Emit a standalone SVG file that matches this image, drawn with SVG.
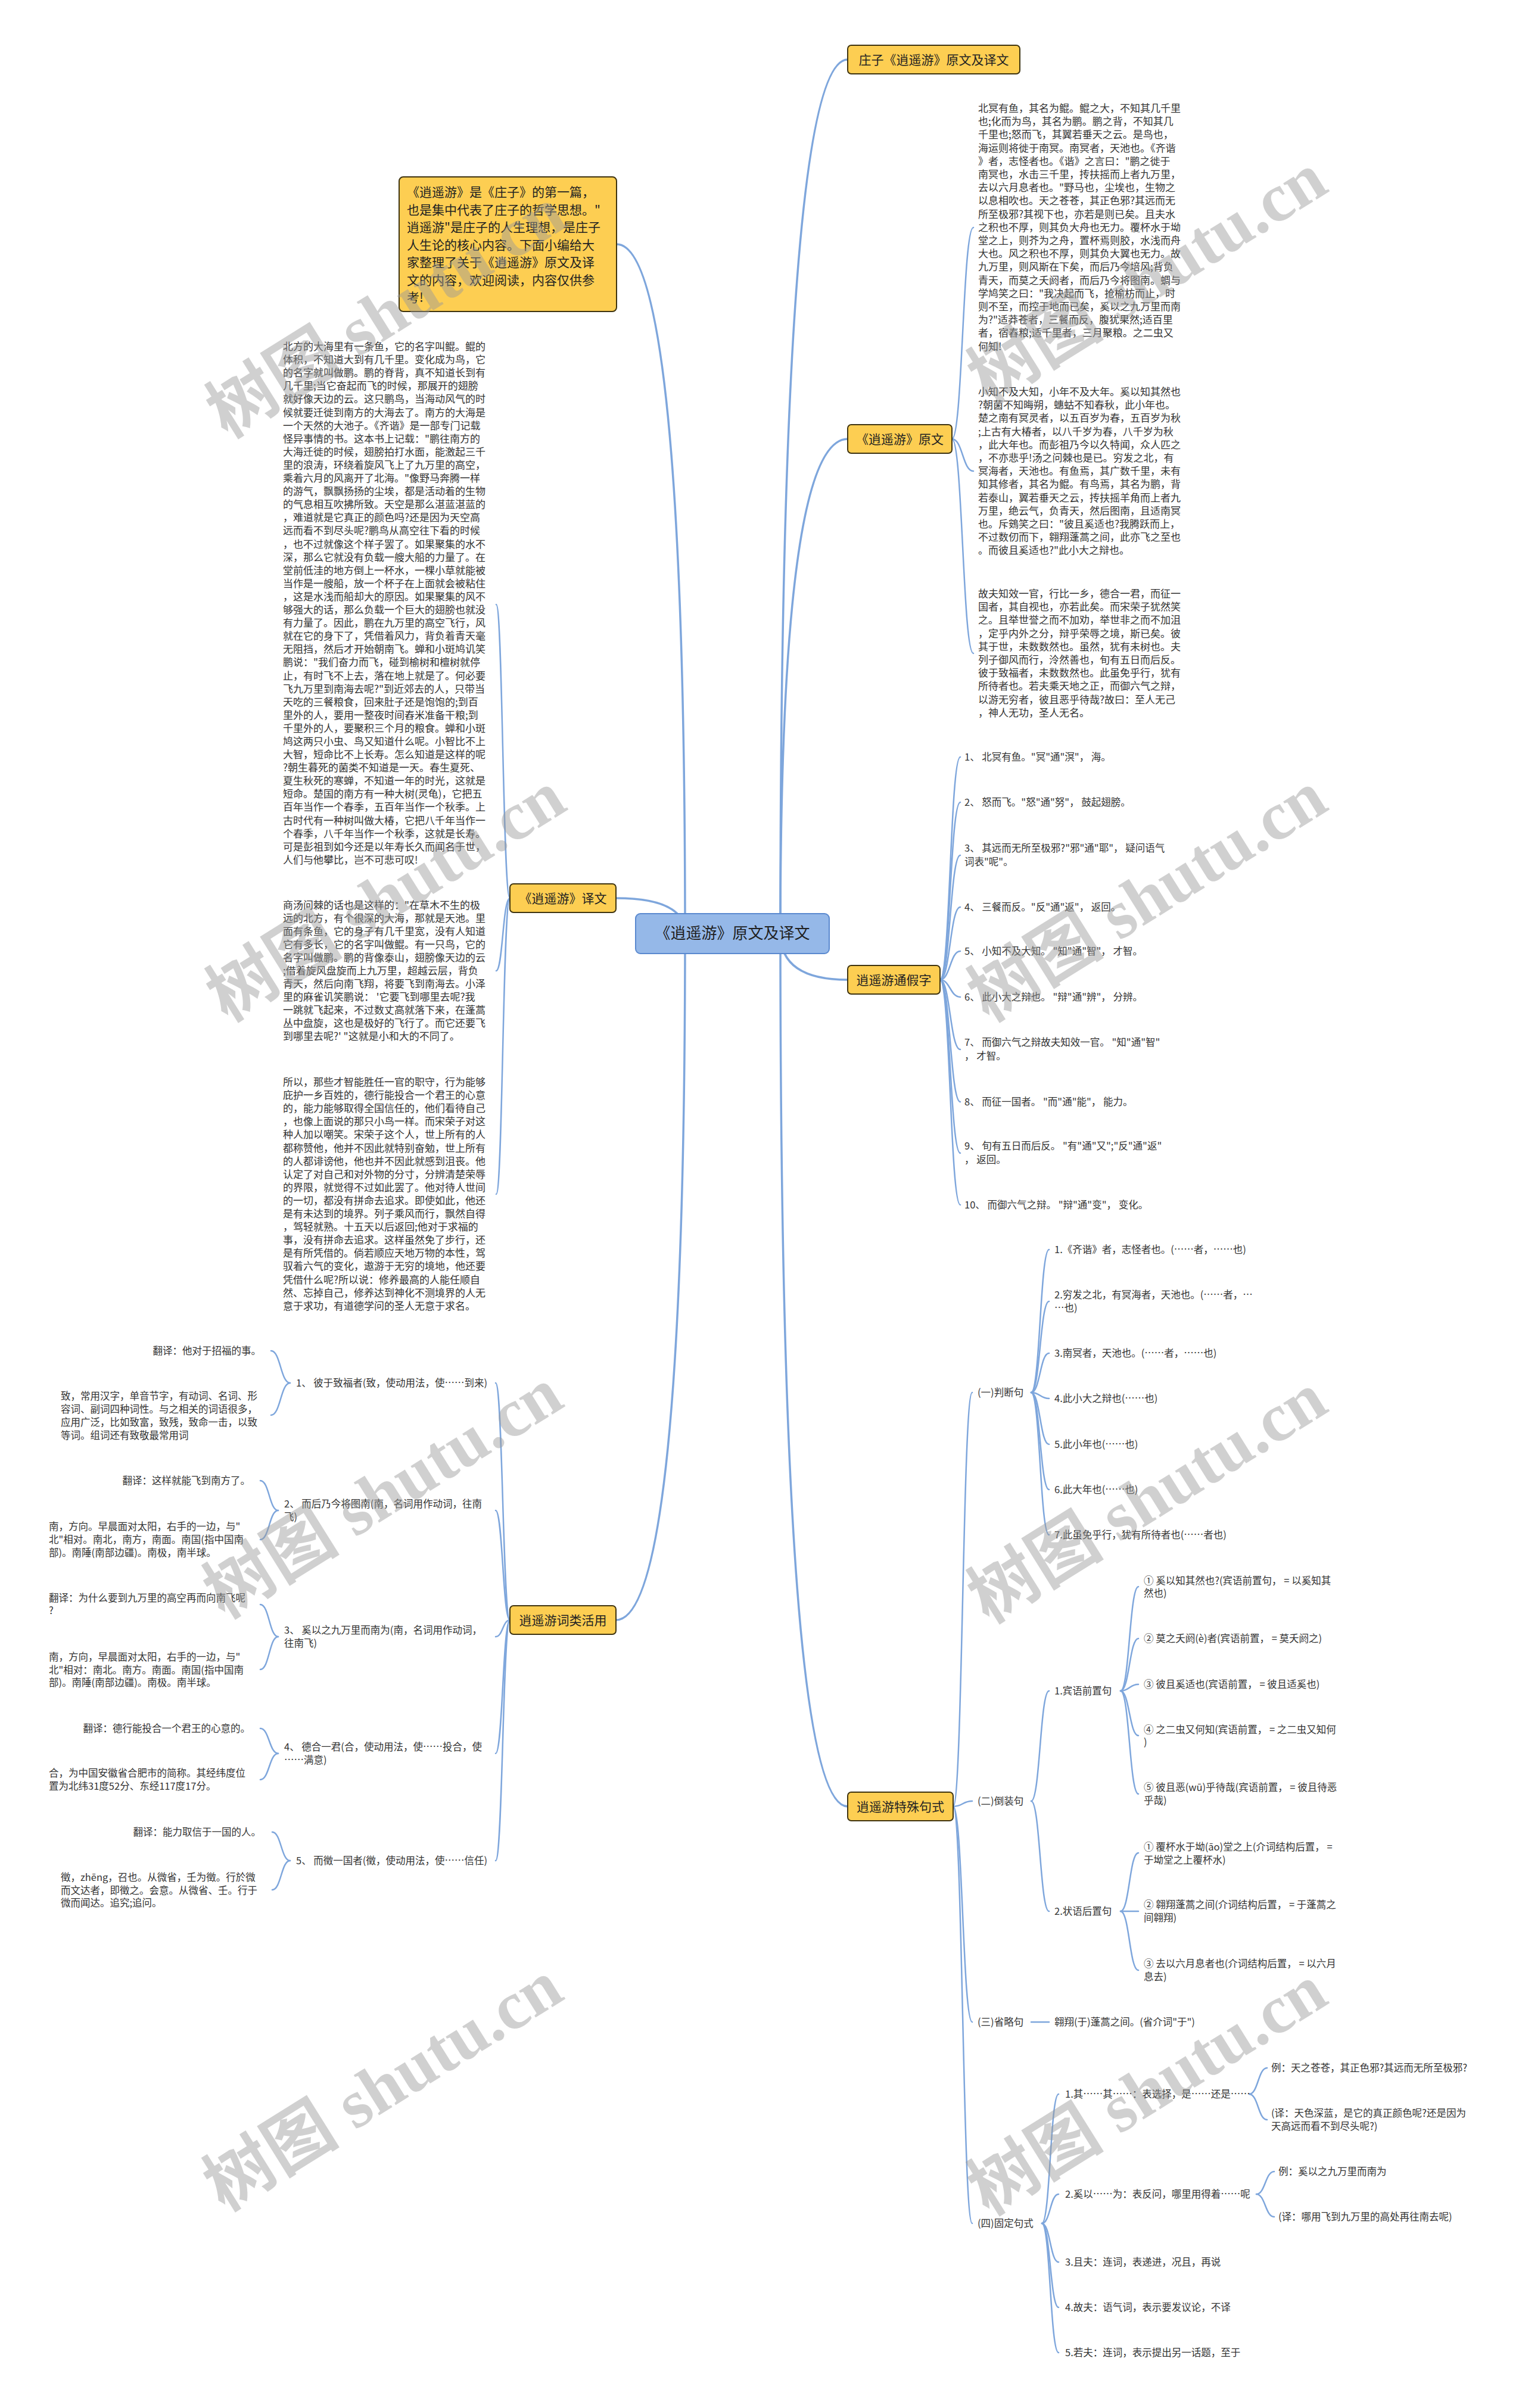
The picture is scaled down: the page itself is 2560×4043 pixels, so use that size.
<svg xmlns="http://www.w3.org/2000/svg" width="2560" height="4043" viewBox="0 0 2560 4043">
<style>
.t{font-family:"Noto Sans CJK SC","Liberation Sans",sans-serif;font-size:17px;fill:#333}
.s{font-family:"Noto Sans CJK SC","Liberation Sans",sans-serif;font-size:16.5px;fill:#333}
.n1{font-family:"Noto Sans CJK SC","Liberation Sans",sans-serif;font-size:21px;fill:#222}
.c{font-family:"Noto Sans CJK SC","Liberation Sans",sans-serif;font-size:26px;fill:#1f1f1f}
.y{fill:#FDCE52;stroke:#3f3410;stroke-width:2}
.e{text-anchor:end}
.m{text-anchor:middle}
.L{fill:none;stroke:#7ea6dc;stroke-width:2.5;stroke-linecap:round}
.M{fill:none;stroke:#7ea6dc;stroke-width:3.5;stroke-linecap:round}
.wm{font-family:"Liberation Serif","Noto Sans CJK SC",serif;font-size:115px;font-weight:bold;fill:#999;opacity:.45}
</style>
<rect width="2560" height="4043" fill="#fff"/>
<g id="connectors">
<path class="M" d="M1310 1567 Q1310 100 1423 100"/>
<path class="M" d="M1310 1567 Q1310 737 1423 737"/>
<path class="M" d="M1310 1567 Q1310 1645 1423 1645"/>
<path class="M" d="M1310 1567 Q1310 3033 1423 3033"/>
<path class="M" d="M1150 1567 Q1150 410 1035 410"/>
<path class="M" d="M1150 1567 Q1150 1508 1034 1508"/>
<path class="M" d="M1150 1567 Q1150 2720 1034 2720"/>
<path class="L" d="M1598 737 C1616 737 1616 382 1634 382"/>
<path class="L" d="M1598 737 C1616 737 1616 791 1634 791"/>
<path class="L" d="M1598 737 C1616 737 1616 1097 1634 1097"/>
<path class="L" d="M1578 1645 C1595 1645 1595 1271 1612 1271"/>
<path class="L" d="M1578 1645 C1595 1645 1595 1347 1612 1347"/>
<path class="L" d="M1578 1645 C1595 1645 1595 1436 1612 1436"/>
<path class="L" d="M1578 1645 C1595 1645 1595 1523 1612 1523"/>
<path class="L" d="M1578 1645 C1595 1645 1595 1597 1612 1597"/>
<path class="L" d="M1578 1645 C1595 1645 1595 1674 1612 1674"/>
<path class="L" d="M1578 1645 C1595 1645 1595 1762 1612 1762"/>
<path class="L" d="M1578 1645 C1595 1645 1595 1850 1612 1850"/>
<path class="L" d="M1578 1645 C1595 1645 1595 1936 1612 1936"/>
<path class="L" d="M1578 1645 C1595 1645 1595 2023 1612 2023"/>
<path class="L" d="M1600 3033 C1616 3033 1616 2338 1632 2338"/>
<path class="L" d="M1600 3033 C1616 3033 1616 3024 1632 3024"/>
<path class="L" d="M1600 3033 C1616 3033 1616 3395 1632 3395"/>
<path class="L" d="M1600 3033 C1616 3033 1616 3733 1632 3733"/>
<path class="L" d="M1731 2338 C1746 2338 1746 2098 1761 2098"/>
<path class="L" d="M1731 2338 C1746 2338 1746 2185 1761 2185"/>
<path class="L" d="M1731 2338 C1746 2338 1746 2272 1761 2272"/>
<path class="L" d="M1731 2338 C1746 2338 1746 2348 1761 2348"/>
<path class="L" d="M1731 2338 C1746 2338 1746 2425 1761 2425"/>
<path class="L" d="M1731 2338 C1746 2338 1746 2501 1761 2501"/>
<path class="L" d="M1731 2338 C1746 2338 1746 2577 1761 2577"/>
<path class="L" d="M1731 3024 C1746 3024 1746 2839 1761 2839"/>
<path class="L" d="M1731 3024 C1746 3024 1746 3209 1761 3209"/>
<path class="L" d="M1881 2839 C1896 2839 1896 2664 1911 2664"/>
<path class="L" d="M1881 2839 C1896 2839 1896 2751 1911 2751"/>
<path class="L" d="M1881 2839 C1896 2839 1896 2828 1911 2828"/>
<path class="L" d="M1881 2839 C1896 2839 1896 2914 1911 2914"/>
<path class="L" d="M1881 2839 C1896 2839 1896 3012 1911 3012"/>
<path class="L" d="M1881 3209 C1896 3209 1896 3111 1911 3111"/>
<path class="L" d="M1881 3209 C1896 3209 1896 3209 1911 3209"/>
<path class="L" d="M1881 3209 C1896 3209 1896 3308 1911 3308"/>
<path class="L" d="M1731 3395 L1761 3395"/>
<path class="L" d="M1749 3733 C1763 3733 1763 3516 1777 3516"/>
<path class="L" d="M1749 3733 C1763 3733 1763 3684 1777 3684"/>
<path class="L" d="M1749 3733 C1763 3733 1763 3798 1777 3798"/>
<path class="L" d="M1749 3733 C1763 3733 1763 3874 1777 3874"/>
<path class="L" d="M1749 3733 C1763 3733 1763 3950 1777 3950"/>
<path class="L" d="M2097 3516 C2112 3516 2112 3472 2127 3472"/>
<path class="L" d="M2097 3516 C2112 3516 2112 3559 2127 3559"/>
<path class="L" d="M2109 3684 C2124 3684 2124 3646 2139 3646"/>
<path class="L" d="M2109 3684 C2124 3684 2124 3722 2139 3722"/>
<path class="L" d="M856 1508 C844 1508 844 1015 833 1015"/>
<path class="L" d="M856 1508 C844 1508 844 1630 833 1630"/>
<path class="L" d="M856 1508 C844 1508 844 2005 833 2005"/>
<path class="L" d="M856 2720 C844 2720 844 2322 832 2322"/>
<path class="L" d="M856 2720 C844 2720 844 2536 832 2536"/>
<path class="L" d="M856 2720 C844 2720 844 2748 832 2748"/>
<path class="L" d="M856 2720 C844 2720 844 2944 832 2944"/>
<path class="L" d="M856 2720 C844 2720 844 3124 832 3124"/>
<path class="L" d="M487 2322 C471 2322 471 2268 455 2268"/>
<path class="L" d="M487 2322 C471 2322 471 2376 455 2376"/>
<path class="L" d="M467 2536 C452 2536 452 2486 437 2486"/>
<path class="L" d="M467 2536 C452 2536 452 2585 437 2585"/>
<path class="L" d="M467 2748 C452 2748 452 2694 437 2694"/>
<path class="L" d="M467 2748 C452 2748 452 2803 437 2803"/>
<path class="L" d="M467 2944 C452 2944 452 2902 437 2902"/>
<path class="L" d="M467 2944 C452 2944 452 2988 437 2988"/>
<path class="L" d="M487 3124 C472 3124 472 3076 457 3076"/>
<path class="L" d="M487 3124 C472 3124 472 3173 457 3173"/>
</g>
<g id="center">
<rect x="1067" y="1534" width="325" height="67" rx="8" fill="#95b8e8" stroke="#5a89cf" stroke-width="2"/>
<text class="c m" x="1229.5" y="1576">《逍遥游》原文及译文</text>
</g>
<g id="n-zhuangzi">
<rect class="y" x="1423" y="76" width="289" height="48" rx="6"/>
<text class="n1 m" x="1567.5" y="107.5">庄子《逍遥游》原文及译文</text>
</g>
<g id="n-yuanwen">
<rect class="y" x="1423" y="713" width="175" height="48" rx="6"/>
<text class="n1 m" x="1510.5" y="744.5">《逍遥游》原文</text>
</g>
<g id="n-tongjia">
<rect class="y" x="1423" y="1621" width="155" height="48" rx="6"/>
<text class="n1 m" x="1500.5" y="1652.5">逍遥游通假字</text>
</g>
<g id="n-teshu">
<rect class="y" x="1423" y="3009" width="177" height="48" rx="6"/>
<text class="n1 m" x="1511.5" y="3040.5">逍遥游特殊句式</text>
</g>
<g id="n-yiwen">
<rect class="y" x="856" y="1484" width="178" height="48" rx="6"/>
<text class="n1 m" x="945" y="1515.5">《逍遥游》译文</text>
</g>
<g id="n-cilei">
<rect class="y" x="856" y="2696" width="178" height="48" rx="6"/>
<text class="n1 m" x="945" y="2727.5">逍遥游词类活用</text>
</g>
<g id="n-intro">
<rect class="y" x="670" y="297" width="365" height="226" rx="7"/>
<text class="n1" x="683" y="330"><tspan x="683">《逍遥游》是《庄子》的第一篇，</tspan><tspan x="683" dy="29.5">也是集中代表了庄子的哲学思想。"</tspan><tspan x="683" dy="29.5">逍遥游"是庄子的人生理想，是庄子</tspan><tspan x="683" dy="29.5">人生论的核心内容。下面小编给大</tspan><tspan x="683" dy="29.5">家整理了关于《逍遥游》原文及译</tspan><tspan x="683" dy="29.5">文的内容，欢迎阅读，内容仅供参</tspan><tspan x="683" dy="29.5">考!</tspan></text>
</g>
<g id="yuanwen-1">
<text class="t" x="1642" y="188"><tspan x="1642">北冥有鱼，其名为鲲。鲲之大，不知其几千里</tspan><tspan x="1642" dy="22.2">也;化而为鸟，其名为鹏。鹏之背，不知其几</tspan><tspan x="1642" dy="22.2">千里也;怒而飞，其翼若垂天之云。是鸟也，</tspan><tspan x="1642" dy="22.2">海运则将徙于南冥。南冥者，天池也。《齐谐</tspan><tspan x="1642" dy="22.2">》者，志怪者也。《谐》之言曰："鹏之徙于</tspan><tspan x="1642" dy="22.2">南冥也，水击三千里，抟扶摇而上者九万里，</tspan><tspan x="1642" dy="22.2">去以六月息者也。"野马也，尘埃也，生物之</tspan><tspan x="1642" dy="22.2">以息相吹也。天之苍苍，其正色邪?其远而无</tspan><tspan x="1642" dy="22.2">所至极邪?其视下也，亦若是则已矣。且夫水</tspan><tspan x="1642" dy="22.2">之积也不厚，则其负大舟也无力。覆杯水于坳</tspan><tspan x="1642" dy="22.2">堂之上，则芥为之舟，置杯焉则胶，水浅而舟</tspan><tspan x="1642" dy="22.2">大也。风之积也不厚，则其负大翼也无力。故</tspan><tspan x="1642" dy="22.2">九万里，则风斯在下矣，而后乃今培风;背负</tspan><tspan x="1642" dy="22.2">青天，而莫之夭阏者，而后乃今将图南。蜩与</tspan><tspan x="1642" dy="22.2">学鸠笑之曰："我决起而飞，抢榆枋而止，时</tspan><tspan x="1642" dy="22.2">则不至，而控于地而已矣，奚以之九万里而南</tspan><tspan x="1642" dy="22.2">为?"适莽苍者，三餐而反，腹犹果然;适百里</tspan><tspan x="1642" dy="22.2">者，宿舂粮;适千里者，三月聚粮。之二虫又</tspan><tspan x="1642" dy="22.2">何知!</tspan></text>
</g>
<g id="yuanwen-2">
<text class="t" x="1642" y="664"><tspan x="1642">小知不及大知，小年不及大年。奚以知其然也</tspan><tspan x="1642" dy="22.2">?朝菌不知晦朔，蟪蛄不知春秋，此小年也。</tspan><tspan x="1642" dy="22.2">楚之南有冥灵者，以五百岁为春，五百岁为秋</tspan><tspan x="1642" dy="22.2">;上古有大椿者，以八千岁为春，八千岁为秋</tspan><tspan x="1642" dy="22.2">，此大年也。而彭祖乃今以久特闻，众人匹之</tspan><tspan x="1642" dy="22.2">，不亦悲乎!汤之问棘也是已。穷发之北，有</tspan><tspan x="1642" dy="22.2">冥海者，天池也。有鱼焉，其广数千里，未有</tspan><tspan x="1642" dy="22.2">知其修者，其名为鲲。有鸟焉，其名为鹏，背</tspan><tspan x="1642" dy="22.2">若泰山，翼若垂天之云，抟扶摇羊角而上者九</tspan><tspan x="1642" dy="22.2">万里，绝云气，负青天，然后图南，且适南冥</tspan><tspan x="1642" dy="22.2">也。斥鴳笑之曰："彼且奚适也?我腾跃而上，</tspan><tspan x="1642" dy="22.2">不过数仞而下，翱翔蓬蒿之间，此亦飞之至也</tspan><tspan x="1642" dy="22.2">。而彼且奚适也?"此小大之辩也。</tspan></text>
</g>
<g id="yuanwen-3">
<text class="t" x="1642" y="1003"><tspan x="1642">故夫知效一官，行比一乡，德合一君，而征一</tspan><tspan x="1642" dy="22.2">国者，其自视也，亦若此矣。而宋荣子犹然笑</tspan><tspan x="1642" dy="22.2">之。且举世誉之而不加劝，举世非之而不加沮</tspan><tspan x="1642" dy="22.2">，定乎内外之分，辩乎荣辱之境，斯已矣。彼</tspan><tspan x="1642" dy="22.2">其于世，未数数然也。虽然，犹有未树也。夫</tspan><tspan x="1642" dy="22.2">列子御风而行，泠然善也，旬有五日而后反。</tspan><tspan x="1642" dy="22.2">彼于致福者，未数数然也。此虽免乎行，犹有</tspan><tspan x="1642" dy="22.2">所待者也。若夫乘天地之正，而御六气之辩，</tspan><tspan x="1642" dy="22.2">以游无穷者，彼且恶乎待哉?故曰：至人无己</tspan><tspan x="1642" dy="22.2">，神人无功，圣人无名。</tspan></text>
</g>
<g id="tongjia-items">
<text class="s" x="1619" y="1277">1、 北冥有鱼。"冥"通"溟"， 海。</text>
<text class="s" x="1619" y="1353">2、 怒而飞。"怒"通"努"， 鼓起翅膀。</text>
<text class="s" x="1619" y="1430"><tspan x="1619">3、 其远而无所至极邪?"邪"通"耶"， 疑问语气</tspan><tspan x="1619" dy="23">词表"呢"。</tspan></text>
<text class="s" x="1619" y="1529">4、 三餐而反。"反"通"返"， 返回。</text>
<text class="s" x="1619" y="1603">5、 小知不及大知。 "知"通"智"， 才智。</text>
<text class="s" x="1619" y="1680">6、 此小大之辩也。 "辩"通"辨"， 分辨。</text>
<text class="s" x="1619" y="1756"><tspan x="1619">7、 而御六气之辩故夫知效一官。 "知"通"智"</tspan><tspan x="1619" dy="23">， 才智。</tspan></text>
<text class="s" x="1619" y="1856">8、 而征一国者。 "而"通"能"， 能力。</text>
<text class="s" x="1619" y="1930"><tspan x="1619">9、 旬有五日而后反。 "有"通"又";"反"通"返"</tspan><tspan x="1619" dy="23">， 返回。</tspan></text>
<text class="s" x="1619" y="2029">10、 而御六气之辩。 "辩"通"变"， 变化。</text>
</g>
<g id="yiwen-1">
<text class="t" x="475" y="588"><tspan x="475">北方的大海里有一条鱼，它的名字叫鲲。鲲的</tspan><tspan x="475" dy="22.1">体积，不知道大到有几千里。变化成为鸟，它</tspan><tspan x="475" dy="22.1">的名字就叫做鹏。鹏的脊背，真不知道长到有</tspan><tspan x="475" dy="22.1">几千里;当它奋起而飞的时候，那展开的翅膀</tspan><tspan x="475" dy="22.1">就好像天边的云。这只鹏鸟，当海动风气的时</tspan><tspan x="475" dy="22.1">候就要迁徙到南方的大海去了。南方的大海是</tspan><tspan x="475" dy="22.1">一个天然的大池子。《齐谐》是一部专门记载</tspan><tspan x="475" dy="22.1">怪异事情的书。这本书上记载："鹏往南方的</tspan><tspan x="475" dy="22.1">大海迁徙的时候，翅膀拍打水面，能激起三千</tspan><tspan x="475" dy="22.1">里的浪涛，环绕着旋风飞上了九万里的高空，</tspan><tspan x="475" dy="22.1">乘着六月的风离开了北海。"像野马奔腾一样</tspan><tspan x="475" dy="22.1">的游气，飘飘扬扬的尘埃，都是活动着的生物</tspan><tspan x="475" dy="22.1">的气息相互吹拂所致。天空是那么湛蓝湛蓝的</tspan><tspan x="475" dy="22.1">，难道就是它真正的颜色吗?还是因为天空高</tspan><tspan x="475" dy="22.1">远而看不到尽头呢?鹏鸟从高空往下看的时候</tspan><tspan x="475" dy="22.1">，也不过就像这个样子罢了。如果聚集的水不</tspan><tspan x="475" dy="22.1">深，那么它就没有负载一艘大船的力量了。在</tspan><tspan x="475" dy="22.1">堂前低洼的地方倒上一杯水，一棵小草就能被</tspan><tspan x="475" dy="22.1">当作是一艘船，放一个杯子在上面就会被粘住</tspan><tspan x="475" dy="22.1">，这是水浅而船却大的原因。如果聚集的风不</tspan><tspan x="475" dy="22.1">够强大的话，那么负载一个巨大的翅膀也就没</tspan><tspan x="475" dy="22.1">有力量了。因此，鹏在九万里的高空飞行，风</tspan><tspan x="475" dy="22.1">就在它的身下了，凭借着风力，背负着青天毫</tspan><tspan x="475" dy="22.1">无阻挡，然后才开始朝南飞。蝉和小斑鸠讥笑</tspan><tspan x="475" dy="22.1">鹏说："我们奋力而飞，碰到榆树和檀树就停</tspan><tspan x="475" dy="22.1">止，有时飞不上去，落在地上就是了。何必要</tspan><tspan x="475" dy="22.1">飞九万里到南海去呢?"到近郊去的人，只带当</tspan><tspan x="475" dy="22.1">天吃的三餐粮食，回来肚子还是饱饱的;到百</tspan><tspan x="475" dy="22.1">里外的人，要用一整夜时间舂米准备干粮;到</tspan><tspan x="475" dy="22.1">千里外的人，要聚积三个月的粮食。蝉和小斑</tspan><tspan x="475" dy="22.1">鸠这两只小虫、鸟又知道什么呢。小智比不上</tspan><tspan x="475" dy="22.1">大智，短命比不上长寿。怎么知道是这样的呢</tspan><tspan x="475" dy="22.1">?朝生暮死的菌类不知道是一天。春生夏死、</tspan><tspan x="475" dy="22.1">夏生秋死的寒蝉，不知道一年的时光，这就是</tspan><tspan x="475" dy="22.1">短命。楚国的南方有一种大树(灵龟)，它把五</tspan><tspan x="475" dy="22.1">百年当作一个春季，五百年当作一个秋季。上</tspan><tspan x="475" dy="22.1">古时代有一种树叫做大椿，它把八千年当作一</tspan><tspan x="475" dy="22.1">个春季，八千年当作一个秋季，这就是长寿。</tspan><tspan x="475" dy="22.1">可是彭祖到如今还是以年寿长久而闻名于世，</tspan><tspan x="475" dy="22.1">人们与他攀比，岂不可悲可叹!</tspan></text>
</g>
<g id="yiwen-2">
<text class="t" x="475" y="1526"><tspan x="475">商汤问棘的话也是这样的："在草木不生的极</tspan><tspan x="475" dy="22">远的北方，有个很深的大海，那就是天池。里</tspan><tspan x="475" dy="22">面有条鱼，它的身子有几千里宽，没有人知道</tspan><tspan x="475" dy="22">它有多长，它的名字叫做鲲。有一只鸟，它的</tspan><tspan x="475" dy="22">名字叫做鹏。鹏的背像泰山，翅膀像天边的云</tspan><tspan x="475" dy="22">;借着旋风盘旋而上九万里，超越云层，背负</tspan><tspan x="475" dy="22">青天，然后向南飞翔，将要飞到南海去。小泽</tspan><tspan x="475" dy="22">里的麻雀讥笑鹏说： '它要飞到哪里去呢?我</tspan><tspan x="475" dy="22">一跳就飞起来，不过数丈高就落下来，在蓬蒿</tspan><tspan x="475" dy="22">丛中盘旋，这也是极好的飞行了。而它还要飞</tspan><tspan x="475" dy="22">到哪里去呢?' "这就是小和大的不同了。</tspan></text>
</g>
<g id="yiwen-3">
<text class="t" x="475" y="1823"><tspan x="475">所以，那些才智能胜任一官的职守，行为能够</tspan><tspan x="475" dy="22.1">庇护一乡百姓的，德行能投合一个君王的心意</tspan><tspan x="475" dy="22.1">的，能力能够取得全国信任的，他们看待自己</tspan><tspan x="475" dy="22.1">，也像上面说的那只小鸟一样。而宋荣子对这</tspan><tspan x="475" dy="22.1">种人加以嘲笑。宋荣子这个人，世上所有的人</tspan><tspan x="475" dy="22.1">都称赞他，他并不因此就特别奋勉，世上所有</tspan><tspan x="475" dy="22.1">的人都诽谤他，他也并不因此就感到沮丧。他</tspan><tspan x="475" dy="22.1">认定了对自己和对外物的分寸，分辨清楚荣辱</tspan><tspan x="475" dy="22.1">的界限，就觉得不过如此罢了。他对待人世间</tspan><tspan x="475" dy="22.1">的一切，都没有拼命去追求。即使如此，他还</tspan><tspan x="475" dy="22.1">是有未达到的境界。列子乘风而行，飘然自得</tspan><tspan x="475" dy="22.1">，驾轻就熟。十五天以后返回;他对于求福的</tspan><tspan x="475" dy="22.1">事，没有拼命去追求。这样虽然免了步行，还</tspan><tspan x="475" dy="22.1">是有所凭借的。倘若顺应天地万物的本性，驾</tspan><tspan x="475" dy="22.1">驭着六气的变化，遨游于无穷的境地，他还要</tspan><tspan x="475" dy="22.1">凭借什么呢?所以说：修养最高的人能任顺自</tspan><tspan x="475" dy="22.1">然、忘掉自己，修养达到神化不测境界的人无</tspan><tspan x="475" dy="22.1">意于求功，有道德学问的圣人无意于求名。</tspan></text>
</g>
<g id="cilei-1">
<text class="s" x="497" y="2328">1、 彼于致福者(致，使动用法，使……到来)</text>
<text class="s e" x="438" y="2274">翻译：他对于招福的事。</text>
<text class="s" x="102" y="2350"><tspan x="102">致，常用汉字，单音节字，有动词、名词、形</tspan><tspan x="102" dy="22">容词、副词四种词性。与之相关的词语很多，</tspan><tspan x="102" dy="22">应用广泛，比如致富，致残，致命一击，以致</tspan><tspan x="102" dy="22">等词。组词还有致敬最常用词</tspan></text>
</g>
<g id="cilei-2">
<text class="s" x="477" y="2531"><tspan x="477">2、 而后乃今将图南(南，名词用作动词，往南</tspan><tspan x="477" dy="22">飞)</tspan></text>
<text class="s e" x="420" y="2492">翻译：这样就能飞到南方了。</text>
<text class="s" x="82" y="2569"><tspan x="82">南，方向。早晨面对太阳，右手的一边，与"</tspan><tspan x="82" dy="22">北"相对。南北，南方，南面。南国(指中国南</tspan><tspan x="82" dy="22">部)。南陲(南部边疆)。南极，南半球。</tspan></text>
</g>
<g id="cilei-3">
<text class="s" x="477" y="2743"><tspan x="477">3、 奚以之九万里而南为(南，名词用作动词，</tspan><tspan x="477" dy="22">往南飞)</tspan></text>
<text class="s" x="82" y="2689"><tspan x="82">翻译：为什么要到九万里的高空再而向南飞呢</tspan><tspan x="82" dy="21">?</tspan></text>
<text class="s" x="82" y="2788"><tspan x="82">南，方向，早晨面对太阳，右手的一边，与"</tspan><tspan x="82" dy="21.5">北"相对：南北。南方。南面。南国(指中国南</tspan><tspan x="82" dy="21.5">部)。南陲(南部边疆)。南极。南半球。</tspan></text>
</g>
<g id="cilei-4">
<text class="s" x="477" y="2939"><tspan x="477">4、 德合一君(合，使动用法，使……投合，使</tspan><tspan x="477" dy="22">……满意)</tspan></text>
<text class="s e" x="420" y="2908">翻译：德行能投合一个君王的心意的。</text>
<text class="s" x="82" y="2983"><tspan x="82">合，为中国安徽省合肥市的简称。其经纬度位</tspan><tspan x="82" dy="22">置为北纬31度52分、东经117度17分。</tspan></text>
</g>
<g id="cilei-5">
<text class="s" x="497" y="3130">5、 而徵一国者(徵，使动用法，使……信任)</text>
<text class="s e" x="438" y="3082">翻译：能力取信于一国的人。</text>
<text class="s" x="102" y="3158"><tspan x="102">徵，zhēng，召也。从微省，壬为徵。行於微</tspan><tspan x="102" dy="21.5">而文达者，即徵之。会意。从微省、壬。行于</tspan><tspan x="102" dy="21.5">微而闻达。追究;追问。</tspan></text>
</g>
<g id="teshu-panduan">
<text class="s" x="1641" y="2344">(一)判断句</text>
<text class="s" x="1770" y="2104">1.《齐谐》者，志怪者也。(……者，……也)</text>
<text class="s" x="1770" y="2180"><tspan x="1770">2.穷发之北，有冥海者，天池也。(……者，…</tspan><tspan x="1770" dy="22">…也)</tspan></text>
<text class="s" x="1770" y="2278">3.南冥者，天池也。(……者，……也)</text>
<text class="s" x="1770" y="2354">4.此小大之辩也(……也)</text>
<text class="s" x="1770" y="2431">5.此小年也(……也)</text>
<text class="s" x="1770" y="2507">6.此大年也(……也)</text>
<text class="s" x="1770" y="2583">7.此虽免乎行，犹有所待者也(……者也)</text>
</g>
<g id="teshu-daozhuang">
<text class="s" x="1641" y="3030">(二)倒装句</text>
<text class="s" x="1770" y="2845">1.宾语前置句</text>
<text class="s" x="1920" y="2660"><tspan x="1920">① 奚以知其然也?(宾语前置句， = 以奚知其</tspan><tspan x="1920" dy="21">然也)</tspan></text>
<text class="s" x="1920" y="2757">② 莫之夭阏(è)者(宾语前置， = 莫夭阏之)</text>
<text class="s" x="1920" y="2834">③ 彼且奚适也(宾语前置， = 彼且适奚也)</text>
<text class="s" x="1920" y="2910"><tspan x="1920">④ 之二虫又何知(宾语前置， = 之二虫又知何</tspan><tspan x="1920" dy="21">)</tspan></text>
<text class="s" x="1920" y="3007"><tspan x="1920">⑤ 彼且恶(wū)乎待哉(宾语前置， = 彼且待恶</tspan><tspan x="1920" dy="22">乎哉)</tspan></text>
<text class="s" x="1770" y="3215">2.状语后置句</text>
<text class="s" x="1920" y="3107"><tspan x="1920">① 覆杯水于坳(āo)堂之上(介词结构后置， =</tspan><tspan x="1920" dy="21.5">于坳堂之上覆杯水)</tspan></text>
<text class="s" x="1920" y="3204"><tspan x="1920">② 翱翔蓬蒿之间(介词结构后置， = 于蓬蒿之</tspan><tspan x="1920" dy="22">间翱翔)</tspan></text>
<text class="s" x="1920" y="3303"><tspan x="1920">③ 去以六月息者也(介词结构后置， = 以六月</tspan><tspan x="1920" dy="22">息去)</tspan></text>
</g>
<g id="teshu-shenglue">
<text class="s" x="1641" y="3401">(三)省略句</text>
<text class="s" x="1770" y="3401">翱翔(于)蓬蒿之间。(省介词"于")</text>
</g>
<g id="teshu-guding">
<text class="s" x="1641" y="3739">(四)固定句式</text>
<text class="s" x="1788" y="3522">1.其……其……：表选择，是……还是……</text>
<text class="s" x="2134" y="3478">例：天之苍苍，其正色邪?其远而无所至极邪?</text>
<text class="s" x="2134" y="3554"><tspan x="2134">(译：天色深蓝，是它的真正颜色呢?还是因为</tspan><tspan x="2134" dy="22">天高远而看不到尽头呢?)</tspan></text>
<text class="s" x="1788" y="3690">2.奚以……为：表反问，哪里用得着……呢</text>
<text class="s" x="2146" y="3652">例：奚以之九万里而南为</text>
<text class="s" x="2146" y="3728">(译：哪用飞到九万里的高处再往南去呢)</text>
<text class="s" x="1788" y="3804">3.且夫：连词，表递进，况且，再说</text>
<text class="s" x="1788" y="3880">4.故夫：语气词，表示要发议论，不译</text>
<text class="s" x="1788" y="3956">5.若夫：连词，表示提出另一话题，至于</text>
</g>
<g id="watermarks">
<text class="wm m" x="650" y="563" transform="rotate(-32 650 528)">树图 shutu.cn</text>
<text class="wm m" x="1928" y="505" transform="rotate(-32 1928 470)">树图 shutu.cn</text>
<text class="wm m" x="650" y="1543" transform="rotate(-32 650 1508)">树图 shutu.cn</text>
<text class="wm m" x="1928" y="1543" transform="rotate(-32 1928 1508)">树图 shutu.cn</text>
<text class="wm m" x="645" y="2545" transform="rotate(-32 645 2510)">树图 shutu.cn</text>
<text class="wm m" x="1928" y="2553" transform="rotate(-32 1928 2518)">树图 shutu.cn</text>
<text class="wm m" x="645" y="3540" transform="rotate(-32 645 3505)">树图 shutu.cn</text>
<text class="wm m" x="1928" y="3547" transform="rotate(-32 1928 3512)">树图 shutu.cn</text>
</g>
</svg>
